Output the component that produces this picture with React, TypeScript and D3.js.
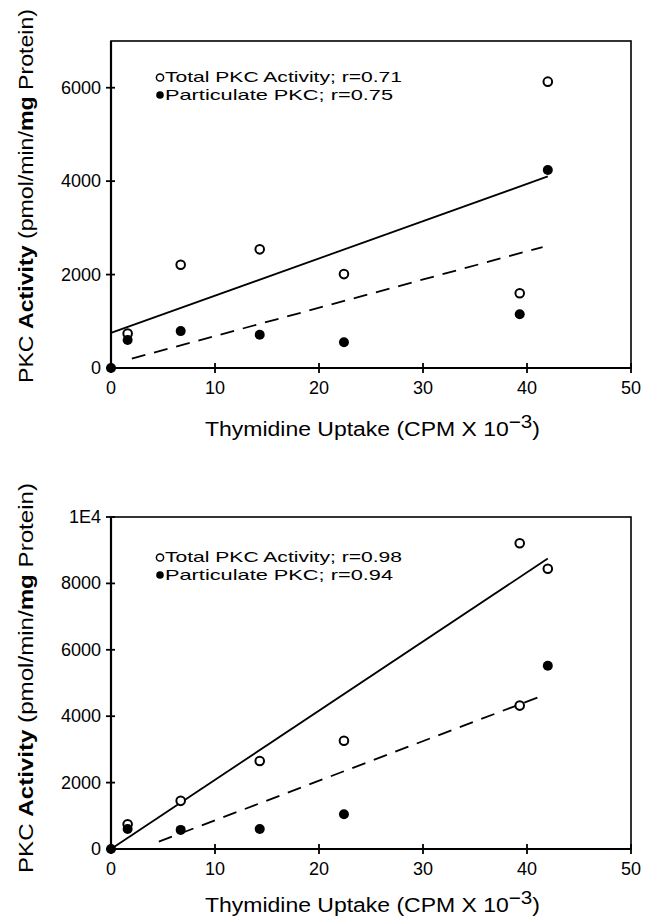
import React from "react";
import * as d3 from "d3";

// ---- Data ----
const xTicks = [0, 10, 20, 30, 40, 50];

// Top panel
const topYTicks = [0, 2000, 4000, 6000];
const topYTickLabels = ["0", "2000", "4000", "6000"];
const topTotal: [number, number][] = [
  [1.6, 740], [6.7, 2210], [14.3, 2540], [22.4, 2010], [39.3, 1600], [42.0, 6130],
];
const topParticulate: [number, number][] = [
  [0, 0], [1.6, 600], [6.7, 790], [14.3, 710], [22.4, 550], [39.3, 1150], [42.0, 4240],
];
const topTotalFit: [number, number][] = [[0, 750], [42.0, 4100]];
const topPartFit: [number, number][] = [[2.0, 200], [41.5, 2590]];
const topLegend = ["Total PKC Activity; r=0.71", "Particulate PKC; r=0.75"];

// Bottom panel
const botYTicks = [0, 2000, 4000, 6000, 8000, 10000];
const botYTickLabels = ["0", "2000", "4000", "6000", "8000", "1E4"];
const botTotal: [number, number][] = [
  [1.6, 745], [6.7, 1450], [14.3, 2650], [22.4, 3260], [39.3, 9210], [42.0, 8440], [39.3, 4320],
];
const botParticulate: [number, number][] = [
  [0, 0], [1.6, 605], [6.7, 575], [14.3, 600], [22.4, 1045], [42.0, 5520],
];
const botTotalFit: [number, number][] = [[0, 0], [42.0, 8750]];
const botPartFit: [number, number][] = [[4.6, 220], [41.5, 4620]];
const botLegend = ["Total PKC Activity; r=0.98", "Particulate PKC; r=0.94"];

const FONT = "'Liberation Sans', Arial, sans-serif";

type PanelProps = {
  top: number;
  bottom: number;
  yMax: number;
  yTicks: number[];
  yTickLabels: string[];
  total: [number, number][];
  particulate: [number, number][];
  totalFit: [number, number][];
  partFit: [number, number][];
  legend: string[];
  legendY: number;
  titleY: number;
  yTitleCenter: number;
  yTitleLength: number;
};

function Panel(p: PanelProps) {
  const left = 111;
  const right = 631;
  const x = d3.scaleLinear().domain([0, 50]).range([left, right]);
  const y = d3.scaleLinear().domain([0, p.yMax]).range([p.bottom, p.top]);
  const line = d3
    .line<[number, number]>()
    .x((d) => x(d[0]))
    .y((d) => y(d[1]));
  return (
    <g>
      {/* frame */}
      <rect
        x={left}
        y={p.top}
        width={right - left}
        height={p.bottom - p.top}
        fill="none"
        stroke="#000"
        strokeWidth={1.6}
      />
      <line x1={left} x2={right} y1={p.bottom} y2={p.bottom} stroke="#000" strokeWidth={2.2} />
      <line x1={left} x2={left} y1={p.top} y2={p.bottom} stroke="#000" strokeWidth={2.2} />
      {/* x ticks */}
      {xTicks.map((t) => (
        <g key={"x" + t}>
          <line x1={x(t)} x2={x(t)} y1={p.bottom - 5} y2={p.bottom + 5} stroke="#000" strokeWidth={1.8} />
          <text x={x(t)} y={p.bottom + 26} textAnchor="middle" fontSize={18} fontFamily={FONT}>
            {t}
          </text>
        </g>
      ))}
      {/* y ticks */}
      {p.yTicks.map((t, i) => (
        <g key={"y" + t}>
          <line x1={left - 5} x2={left + 4} y1={y(t)} y2={y(t)} stroke="#000" strokeWidth={1.8} />
          <text x={left - 10} y={y(t) + 6} textAnchor="end" fontSize={18} fontFamily={FONT}>
            {p.yTickLabels[i]}
          </text>
        </g>
      ))}
      {/* fit lines */}
      <path d={line(p.totalFit) || ""} fill="none" stroke="#000" strokeWidth={1.8} />
      <path
        d={line(p.partFit) || ""}
        fill="none"
        stroke="#000"
        strokeWidth={1.8}
        strokeDasharray="14 9"
      />
      {/* points */}
      {p.total.map((d, i) => (
        <circle key={"t" + i} cx={x(d[0])} cy={y(d[1])} r={4.3} fill="#fff" stroke="#000" strokeWidth={2} />
      ))}
      {p.particulate.map((d, i) => (
        <circle key={"p" + i} cx={x(d[0])} cy={y(d[1])} r={5} fill="#000" />
      ))}
      {/* legend */}
      <circle cx={160} cy={p.legendY - 4.5} r={3.6} fill="#fff" stroke="#000" strokeWidth={1.5} />
      <circle cx={160} cy={p.legendY + 13} r={3.8} fill="#000" />
      <text x={165} y={p.legendY} fontSize={14.5} fontFamily={FONT} textLength={237} lengthAdjust="spacingAndGlyphs">
        {p.legend[0]}
      </text>
      <text x={165} y={p.legendY + 18} fontSize={14.5} fontFamily={FONT} textLength={228} lengthAdjust="spacingAndGlyphs">
        {p.legend[1]}
      </text>
      {/* x title */}
      <text x={205} y={p.titleY} fontSize={20} fontFamily={FONT} textLength={335} lengthAdjust="spacingAndGlyphs">
        Thymidine Uptake (CPM X 10
        <tspan dy={-8} fontSize={18}>−3</tspan>
        <tspan dy={8}>)</tspan>
      </text>
      {/* y title */}
      <text
        transform={`translate(33,${p.yTitleCenter}) rotate(-90)`}
        textAnchor="middle"
        fontSize={20}
        fontFamily={FONT}
        textLength={p.yTitleLength}
        lengthAdjust="spacingAndGlyphs"
      >
        PKC <tspan fontWeight="bold">Activity</tspan> (pmol/min/<tspan fontWeight="bold">mg</tspan> Protein)
      </text>
    </g>
  );
}

export default function App() {
  return (
    <svg width={654} height={922} style={{ position: "absolute", left: 0, top: 0, background: "#fff" }}>
      <rect x={0} y={0} width={654} height={922} fill="#fff" />
      <Panel
        top={41}
        bottom={368}
        yMax={7000}
        yTicks={topYTicks}
        yTickLabels={topYTickLabels}
        total={topTotal}
        particulate={topParticulate}
        totalFit={topTotalFit}
        partFit={topPartFit}
        legend={topLegend}
        legendY={82}
        titleY={436}
        yTitleCenter={196}
        yTitleLength={374}
      />
      <Panel
        top={517}
        bottom={849}
        yMax={10000}
        yTicks={botYTicks}
        yTickLabels={botYTickLabels}
        total={botTotal}
        particulate={botParticulate}
        totalFit={botTotalFit}
        partFit={botPartFit}
        legend={botLegend}
        legendY={562}
        titleY={912}
        yTitleCenter={678}
        yTitleLength={390}
      />
    </svg>
  );
}
